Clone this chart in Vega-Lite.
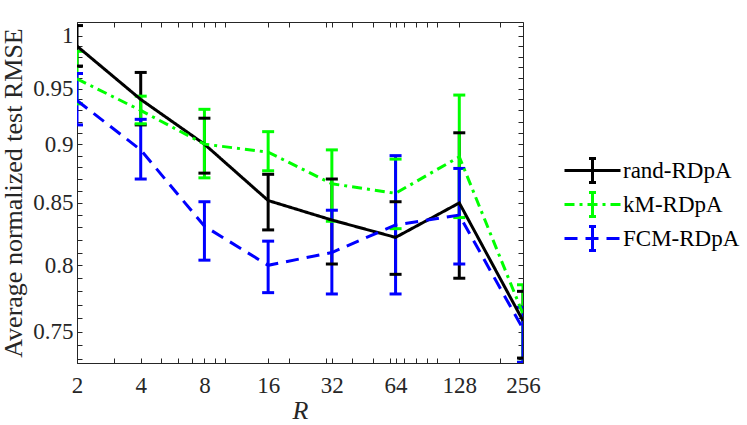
{
  "$schema": "https://vega.github.io/schema/vega-lite/v6.json",
  "width": 446,
  "height": 341,
  "autosize": {"type": "none"},
  "padding": {"left": 77, "top": 22, "right": 224, "bottom": 62},
  "background": "white",
  "config": {
    "view": {"stroke": "#262626", "strokeWidth": 1},
    "font": "Liberation Serif, Times New Roman, serif",
    "axis": {
      "domainColor": "#262626",
      "tickColor": "#262626",
      "labelColor": "#262626",
      "titleColor": "#262626",
      "labelFont": "Liberation Serif, Times New Roman, serif",
      "titleFont": "Liberation Serif, Times New Roman, serif",
      "labelFontSize": 23,
      "titleFontSize": 26,
      "titleFontWeight": "normal",
      "grid": false,
      "tickSize": -5,
      "tickWidth": 1
    },
    "legend": {
      "title": null,
      "orient": "none",
      "legendX": 500,
      "legendY": 133,
      "padding": 0,
      "symbolType": "M-0.25,-0.85H0M0,-0.85H0.25M0,-0.85V-0.28M0,-0.28V0.28M0,0.28V0.85M-0.25,0.85H0M0,0.85H0.25M-2,0H2",
      "symbolSize": 784,
      "symbolStrokeWidth": 3,
      "rowPadding": -8,
      "labelOffset": 15,
      "labelFont": "Liberation Serif, Times New Roman, serif",
      "labelFontSize": 23,
      "labelColor": "#000000",
      "labelLimit": 300
    }
  },
  "data": {
    "values": [
      {"method": "rand-RDpA", "R": 2, "rmse": 0.990, "lo": 0.971, "hi": 1.010},
      {"method": "rand-RDpA", "R": 4, "rmse": 0.940, "lo": 0.917, "hi": 0.965},
      {"method": "rand-RDpA", "R": 8, "rmse": 0.900, "lo": 0.875, "hi": 0.923},
      {"method": "rand-RDpA", "R": 16, "rmse": 0.852, "lo": 0.828, "hi": 0.874},
      {"method": "rand-RDpA", "R": 32, "rmse": 0.836, "lo": 0.801, "hi": 0.870},
      {"method": "rand-RDpA", "R": 64, "rmse": 0.822, "lo": 0.793, "hi": 0.851},
      {"method": "rand-RDpA", "R": 128, "rmse": 0.850, "lo": 0.790, "hi": 0.910},
      {"method": "rand-RDpA", "R": 256, "rmse": 0.758, "lo": 0.731, "hi": 0.780},
      {"method": "kM-RDpA", "R": 2, "rmse": 0.959, "lo": 0.936, "hi": 0.985},
      {"method": "kM-RDpA", "R": 4, "rmse": 0.930, "lo": 0.918, "hi": 0.943},
      {"method": "kM-RDpA", "R": 8, "rmse": 0.900, "lo": 0.871, "hi": 0.931},
      {"method": "kM-RDpA", "R": 16, "rmse": 0.893, "lo": 0.877, "hi": 0.911},
      {"method": "kM-RDpA", "R": 32, "rmse": 0.866, "lo": 0.835, "hi": 0.895},
      {"method": "kM-RDpA", "R": 64, "rmse": 0.858, "lo": 0.829, "hi": 0.887},
      {"method": "kM-RDpA", "R": 128, "rmse": 0.889, "lo": 0.838, "hi": 0.944},
      {"method": "kM-RDpA", "R": 256, "rmse": 0.763, "lo": 0.728, "hi": 0.785},
      {"method": "FCM-RDpA", "R": 2, "rmse": 0.939, "lo": 0.917, "hi": 0.964},
      {"method": "FCM-RDpA", "R": 4, "rmse": 0.895, "lo": 0.870, "hi": 0.922},
      {"method": "FCM-RDpA", "R": 8, "rmse": 0.831, "lo": 0.804, "hi": 0.851},
      {"method": "FCM-RDpA", "R": 16, "rmse": 0.800, "lo": 0.779, "hi": 0.819},
      {"method": "FCM-RDpA", "R": 32, "rmse": 0.810, "lo": 0.778, "hi": 0.844},
      {"method": "FCM-RDpA", "R": 64, "rmse": 0.832, "lo": 0.778, "hi": 0.890},
      {"method": "FCM-RDpA", "R": 128, "rmse": 0.840, "lo": 0.801, "hi": 0.879},
      {"method": "FCM-RDpA", "R": 256, "rmse": 0.752, "lo": 0.728, "hi": 0.768}
    ]
  },
  "encoding": {
    "color": {
      "field": "method",
      "type": "nominal",
      "scale": {"domain": ["rand-RDpA", "kM-RDpA", "FCM-RDpA"], "range": ["#000000", "#00ff00", "#0000ff"]}
    }
  },
  "resolve": {"axis": {"x": "independent", "y": "independent"}},
  "layer": [
    {
      "mark": {"type": "rule", "strokeWidth": 3, "clip": true},
      "encoding": {
        "x": {
          "field": "R",
          "type": "quantitative",
          "scale": {"type": "log", "base": 2, "domain": [2, 256], "nice": false},
          "axis": {
            "orient": "bottom",
            "values": [2, 3, 4, 5, 6, 7, 8, 9, 10, 16, 20, 30, 32, 40, 50, 60, 64, 70, 80, 90, 100, 128, 200, 256],
            "labelExpr": "indexof([2, 4, 8, 16, 32, 64, 128, 256], datum.value) >= 0 ? datum.value : ''",
            "labelPadding": 16,
            "labelOverlap": false,
            "labelFlush": false,
            "title": "R",
            "titleFontStyle": "italic",
            "titlePadding": 0
          }
        },
        "y": {
          "field": "lo",
          "type": "quantitative",
          "scale": {"type": "log", "domain": [0.7275, 1.0135], "nice": false, "zero": false},
          "axis": {
            "orient": "left",
            "values": [0.73, 0.74, 0.75, 0.76, 0.77, 0.78, 0.79, 0.8, 0.81, 0.82, 0.83, 0.84, 0.85, 0.86, 0.87, 0.88, 0.89, 0.9, 0.91, 0.92, 0.93, 0.94, 0.95, 0.96, 0.97, 0.98, 0.99, 1, 1.01],
            "labelExpr": "indexof([0.75, 0.8, 0.85, 0.9, 0.95, 1], datum.value) >= 0 ? format(datum.value, '~g') : ''",
            "labelPadding": 9,
            "labelOverlap": false,
            "labelFlush": false,
            "title": "Average normalized test RMSE",
            "titlePadding": 6
          }
        },
        "y2": {"field": "hi"}
      }
    },
    {
      "mark": {"type": "tick", "orient": "horizontal", "size": 12, "thickness": 3, "opacity": 1, "clip": true},
      "encoding": {
        "x": {
          "field": "R",
          "type": "quantitative",
          "axis": {
            "orient": "top",
            "values": [2, 3, 4, 5, 6, 7, 8, 9, 10, 16, 20, 30, 32, 40, 50, 60, 64, 70, 80, 90, 100, 128, 200, 256],
            "labels": false,
            "domain": false,
            "title": null
          }
        },
        "y": {
          "field": "lo",
          "type": "quantitative",
          "axis": {
            "orient": "right",
            "values": [0.73, 0.74, 0.75, 0.76, 0.77, 0.78, 0.79, 0.8, 0.81, 0.82, 0.83, 0.84, 0.85, 0.86, 0.87, 0.88, 0.89, 0.9, 0.91, 0.92, 0.93, 0.94, 0.95, 0.96, 0.97, 0.98, 0.99, 1, 1.01],
            "labels": false,
            "domain": false,
            "title": null
          }
        }
      }
    },
    {
      "mark": {"type": "tick", "orient": "horizontal", "size": 12, "thickness": 3, "opacity": 1, "clip": true},
      "encoding": {
        "x": {"field": "R", "type": "quantitative", "axis": null},
        "y": {"field": "hi", "type": "quantitative", "axis": null}
      }
    },
    {
      "mark": {"type": "line", "strokeWidth": 3, "clip": true},
      "encoding": {
        "x": {"field": "R", "type": "quantitative", "axis": null},
        "y": {"field": "rmse", "type": "quantitative", "axis": null},
        "strokeDash": {
          "field": "method",
          "type": "nominal",
          "scale": {
            "domain": ["rand-RDpA", "kM-RDpA", "FCM-RDpA"],
            "range": [[1, 0], [10, 5, 3, 5], [13, 8]]
          }
        }
      }
    }
  ]
}
